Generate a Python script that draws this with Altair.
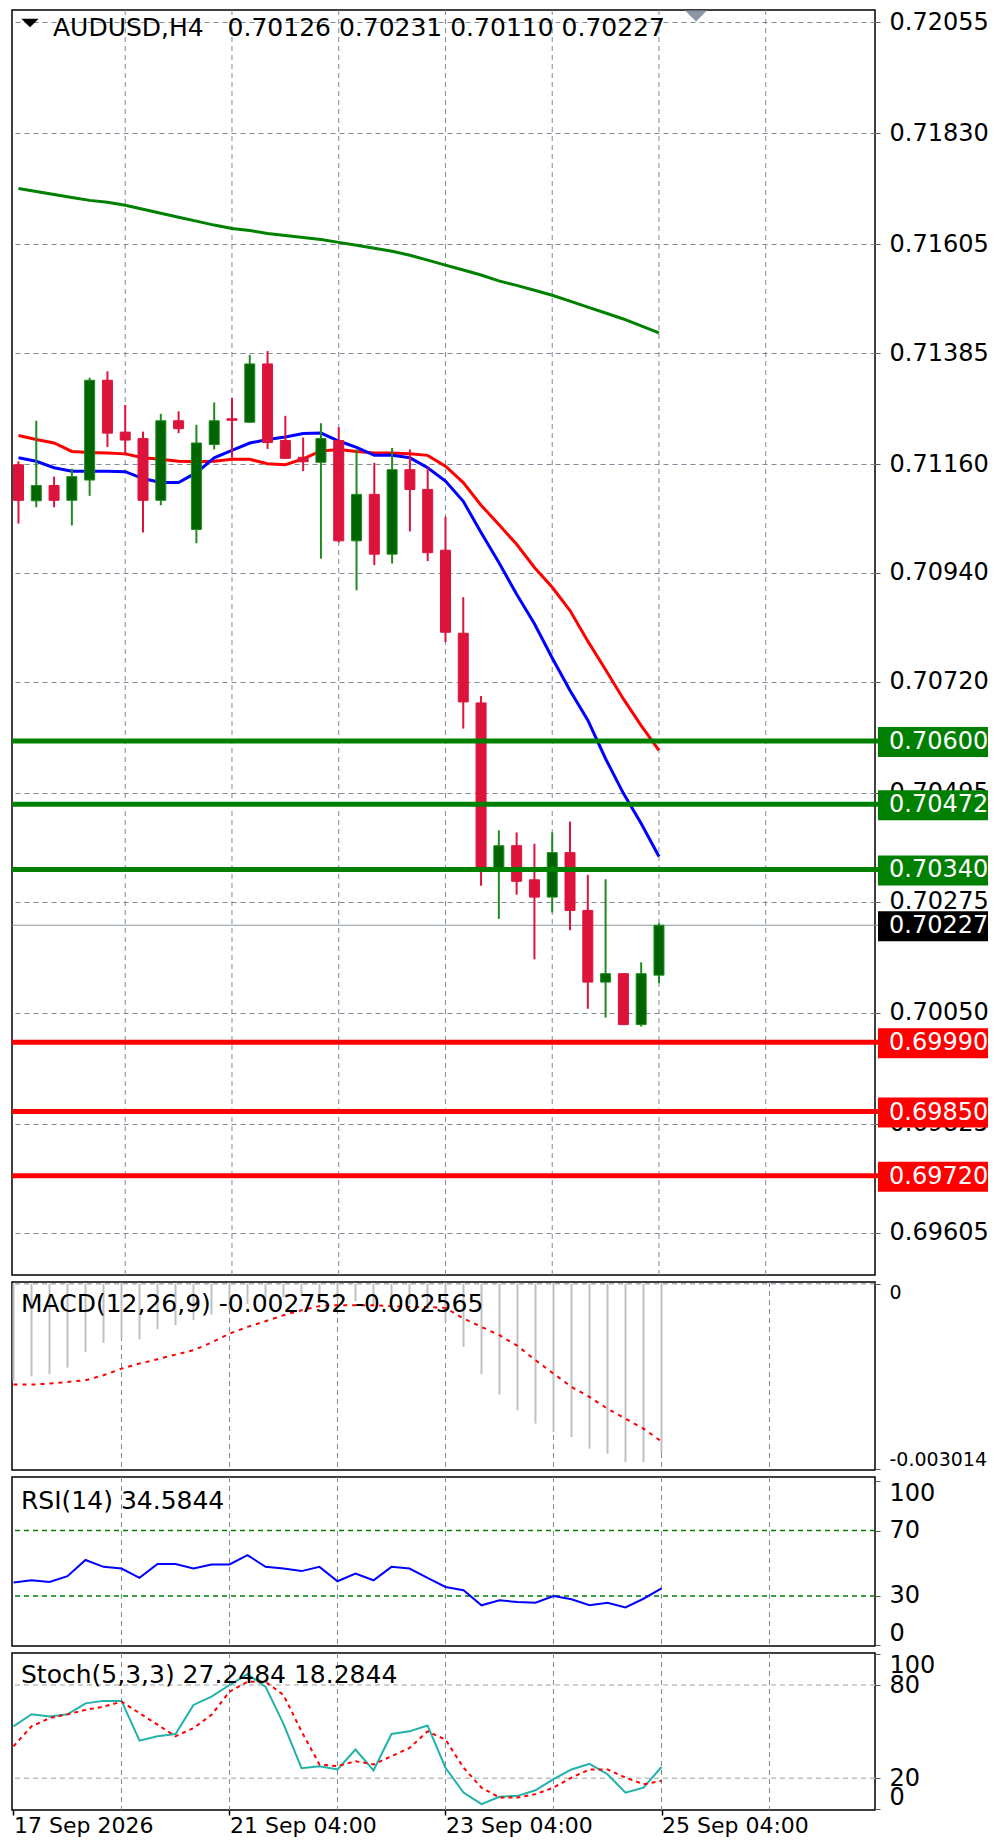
import altair as alt
import pandas as pd

# ---------------- data ----------------
bar_index = list(range(37))
opens = [0.71159, 0.71086, 0.71117, 0.71087, 0.71128, 0.71330, 0.71225, 0.71212, 0.71087, 0.71248,
         0.71028, 0.71200, 0.71252, 0.71245, 0.71363, 0.71208, 0.71174, 0.71164, 0.71208, 0.71005,
         0.71099, 0.70978, 0.71149, 0.71109, 0.70986, 0.70818, 0.70677, 0.70338, 0.70388, 0.70319,
         0.70284, 0.70374, 0.70257, 0.70112, 0.70129, 0.70026, 0.70126]
highs = [0.71166, 0.71248, 0.71135, 0.71151, 0.71335, 0.71348, 0.71280, 0.71226, 0.71262, 0.71267,
         0.71240, 0.71285, 0.71294, 0.71381, 0.71389, 0.71258, 0.71214, 0.71243, 0.71235, 0.71190,
         0.71163, 0.71193, 0.71190, 0.71153, 0.71054, 0.70891, 0.70691, 0.70419, 0.70415, 0.70392,
         0.70415, 0.70437, 0.70329, 0.70320, 0.70129, 0.70152, 0.70231]
lows = [0.71040, 0.71073, 0.71073, 0.71036, 0.71096, 0.71195, 0.71180, 0.71022, 0.71077, 0.71223,
        0.71000, 0.71190, 0.71173, 0.71244, 0.71191, 0.71172, 0.71146, 0.70969, 0.71002, 0.70905,
        0.70956, 0.70959, 0.71024, 0.70964, 0.70800, 0.70625, 0.70307, 0.70240, 0.70289, 0.70158,
        0.70253, 0.70217, 0.70058, 0.70040, 0.70026, 0.70022, 0.70110]
closes = [0.71087, 0.71117, 0.71087, 0.71135, 0.71330, 0.71223, 0.71209, 0.71087, 0.71248, 0.71232,
          0.71203, 0.71248, 0.71249, 0.71363, 0.71204, 0.71172, 0.71165, 0.71212, 0.71005, 0.71099,
          0.70978, 0.71149, 0.71109, 0.70981, 0.70820, 0.70679, 0.70339, 0.70388, 0.70316, 0.70284,
          0.70374, 0.70257, 0.70112, 0.70129, 0.70026, 0.70129, 0.70227]
ma_fast = [0.71173, 0.71166, 0.71153, 0.71146, 0.71146, 0.71146, 0.71145, 0.71131, 0.71123, 0.71123,
           0.71143, 0.71173, 0.71188, 0.71203, 0.71210, 0.71215, 0.71222, 0.71223, 0.71207, 0.71194,
           0.71178, 0.71178, 0.71173, 0.71153, 0.71126, 0.71085, 0.71022, 0.70961, 0.70897, 0.70837,
           0.70768, 0.70702, 0.70642, 0.70564, 0.70494, 0.70433, 0.70366]
ma_mid = [0.71218, 0.71210, 0.71203, 0.71186, 0.71184, 0.71183, 0.71181, 0.71173, 0.71170, 0.71166,
          0.71165, 0.71166, 0.71170, 0.71170, 0.71161, 0.71159, 0.71171, 0.71187, 0.71190, 0.71186,
          0.71183, 0.71183, 0.71181, 0.71178, 0.71156, 0.71123, 0.71077, 0.71038, 0.70998, 0.70951,
          0.70911, 0.70864, 0.70802, 0.70744, 0.70685, 0.70631, 0.70581]
ma_slow = [0.71718, 0.71712, 0.71706, 0.71700, 0.71694, 0.71690, 0.71684, 0.71676, 0.71668, 0.71660,
           0.71652, 0.71644, 0.71637, 0.71633, 0.71627, 0.71623, 0.71619, 0.71615, 0.71609, 0.71603,
           0.71597, 0.71591, 0.71583, 0.71573, 0.71563, 0.71553, 0.71543, 0.71531, 0.71522, 0.71512,
           0.71502, 0.71490, 0.71478, 0.71466, 0.71454, 0.71440, 0.71426]
macd_hist = [-0.001580, -0.001504, -0.001471, -0.001364, -0.001108, -0.000961, -0.000880, -0.000900,
             -0.000738, -0.000673, -0.000590, -0.000500, -0.000420, -0.000330, -0.000280, -0.000220,
             -0.000200, -0.000170, -0.000260, -0.000280, -0.000330, -0.000290, -0.000330, -0.000430,
             -0.000620, -0.001026, -0.001472, -0.001803, -0.002058, -0.002275, -0.002411, -0.002493,
             -0.002683, -0.002765, -0.002900, -0.002900, -0.002752]
macd_signal = [-0.001640, -0.001640, -0.001624, -0.001597, -0.001569, -0.001488, -0.001380, -0.001298,
               -0.001227, -0.001152, -0.001080, -0.000956, -0.000810, -0.000701, -0.000608, -0.000510,
               -0.000429, -0.000363, -0.000347, -0.000347, -0.000347, -0.000363, -0.000375, -0.000375,
               -0.000391, -0.000565, -0.000701, -0.000836, -0.001010, -0.001243, -0.001461, -0.001678,
               -0.001841, -0.002032, -0.002195, -0.002357, -0.002565]
rsi = [38.2, 39.6, 38.6, 42.1, 52.0, 47.8, 46.8, 41.1, 49.5, 49.5, 46.8, 49.3, 49.3, 55.0, 47.8, 46.8,
       45.2, 47.8, 39.0, 43.7, 39.6, 47.8, 46.8, 41.1, 35.5, 33.5, 24.3, 27.3, 26.3, 25.9, 30.0, 28.0,
       24.3, 25.9, 23.0, 28.3, 34.58]
stoch_main = [53.4, 61.2, 59.8, 61.2, 68.2, 69.8, 69.8, 44.2, 47.0, 48.5, 67.2, 72.5, 80.0, 87.0, 79.0,
              55.0, 26.5, 27.8, 25.7, 38.5, 25.1, 48.5, 50.2, 54.0, 26.8, 10.8, 3.4, 8.1, 8.7, 12.3,
              19.4, 25.7, 29.3, 22.6, 10.8, 14.0, 27.25]
stoch_signal = [40.6, 53.4, 58.7, 61.2, 64.0, 66.1, 69.3, 61.9, 54.5, 47.0, 52.3, 60.8, 75.7, 82.1, 82.1,
                73.6, 50.2, 28.9, 27.8, 31.0, 28.9, 34.2, 39.5, 50.2, 44.9, 26.8, 14.0, 7.6, 7.6, 9.8,
                14.0, 20.4, 25.7, 25.7, 20.4, 16.2, 18.28]

price_ticks = [0.72055, 0.71830, 0.71605, 0.71385, 0.71160, 0.70940, 0.70720, 0.70495,
               0.70275, 0.70050, 0.69825, 0.69605]
resistance_levels = [0.70600, 0.70472, 0.70340]
support_levels = [0.69990, 0.69850, 0.69720]
last_price = [0.70227]
grid_bars = [6, 12, 18, 24, 30, 36, 42]
date_bars = [0, 12, 24, 36]
date_labels = ["17 Sep 2026", "21 Sep 04:00", "23 Sep 04:00", "25 Sep 04:00"]
macd_ticks = [0, -0.003014]
rsi_ticks = [0, 30, 70, 100]
rsi_levels = [30, 70]
stoch_ticks = [0, 20, 80, 100]
stoch_levels = [20, 80]

main_title = "AUDUSD,H4\u00a0\u00a0 0.70126 0.70231 0.70110 0.70227"
macd_title = "MACD(12,26,9) -0.002752 -0.002565"
rsi_title = "RSI(14) 34.5844"
stoch_title = "Stoch(5,3,3) 27.2484 18.2844"

# ---------------- styling ----------------
FONT = "DejaVu Sans"
FS = 24
GRID = "#7f8b98"
BULL_BODY = "#006400"
BULL_EDGE = "#1f8a1f"
BEAR = "#dc143c"
W = 863
H_MAIN, H_MACD, H_RSI, H_STOCH = 1265, 188, 169, 157
TRI = "M-1,-0.5L1,-0.5L0,0.5Z"

xs = alt.Scale(domain=[-0.0833, 47.8611], nice=False, zero=False)

candles = pd.DataFrame({"bar": bar_index, "open": opens, "high": highs, "low": lows,
                        "close": closes, "ma_fast": ma_fast, "ma_mid": ma_mid, "ma_slow": ma_slow})
grid_df = pd.DataFrame({"bar": grid_bars})
one = pd.DataFrame({"a": [0]})


def right_axis(values, expr, flush=False, size=FS, **kw):
    return alt.Axis(orient="right", values=values, labelExpr=expr, title=None, domain=False,
                    tickSize=5, tickColor="#555555", labelPadding=9, labelFont=FONT,
                    labelFontSize=size, labelColor="black", labelOverlap=False,
                    labelFlush=flush, **kw)


def vgrid(x_axis=None):
    return alt.Chart(grid_df).mark_rule(strokeDash=[5, 4], color=GRID, strokeWidth=1).encode(
        x=alt.X("bar:Q", scale=xs, axis=x_axis))


def label(text, x, y, size=FS):
    return alt.Chart(pd.DataFrame({"t": [text]})).mark_text(
        align="left", baseline="middle", font=FONT, fontSize=size, color="black").encode(
        x=alt.value(x), y=alt.value(y), text="t:N")


# ---------------- main price panel ----------------
main_y = alt.Scale(domain=[0.695192, 0.720793], nice=False, zero=False)
main_axis = right_axis(price_ticks, "format(datum.value, '.5f')", grid=True,
                       gridDash=[5, 4], gridColor=GRID, gridWidth=1)
X = alt.X("bar:Q", scale=xs, axis=None)
base = alt.Chart(candles)


def py(field):
    return alt.Y(field, scale=main_y, axis=main_axis)


up = "datum.close >= datum.open"
last_rule = alt.Chart(pd.DataFrame({"price": last_price})).mark_rule(
    color="#8c96a0", strokeWidth=1, clip=False).encode(
    y=py("price:Q"), x=alt.value(0), x2=alt.value(866))
ma_lines = [
    base.mark_line(color=c, strokeWidth=3).encode(x=X, y=py(f + ":Q"))
    for f, c in [("ma_slow", "#008000"), ("ma_mid", "#ff0000"), ("ma_fast", "#0000ff")]
]
wicks = base.mark_rule(strokeWidth=2, clip=True).encode(
    x=X, y=py("low:Q"), y2="high:Q",
    color=alt.condition(up, alt.value(BULL_EDGE), alt.value(BEAR)))
bodies = base.mark_bar(size=10, strokeWidth=1, clip=True).encode(
    x=X, y=py("open:Q"), y2="close:Q",
    fill=alt.condition(up, alt.value(BULL_BODY), alt.value(BEAR)),
    stroke=alt.condition(up, alt.value(BULL_EDGE), alt.value(BEAR)))


def level_layers(levels, color, line=True):
    df = pd.DataFrame({"price": levels})
    out = []
    if line:
        out.append(alt.Chart(df).mark_rule(color=color, strokeWidth=5, clip=False).encode(
            y=py("price:Q"), x=alt.value(0), x2=alt.value(866)))
    out.append(alt.Chart(df).mark_tick(orient="horizontal", thickness=30, size=110, color=color,
                                       opacity=1, clip=False, yOffset=1).encode(
        y=py("price:Q"), x=alt.value(921)))
    out.append(alt.Chart(df).mark_text(align="left", baseline="middle", font=FONT, fontSize=FS,
                                       color="white", clip=False, yOffset=1).encode(
        y=py("price:Q"), x=alt.value(877), text=alt.Text("price:Q", format=".5f")))
    return out


title_tri = alt.Chart(one).mark_point(shape=TRI, filled=True, size=300, strokeWidth=0,
                                      color="black", opacity=1).encode(
    x=alt.value(18), y=alt.value(13))
shift_tri = alt.Chart(one).mark_point(shape=TRI, filled=True, size=480, strokeWidth=0,
                                      color="#8a96a3", opacity=1).encode(
    x=alt.value(684), y=alt.value(6))

main = alt.layer(
    vgrid(), last_rule, *ma_lines, wicks, bodies,
    *level_layers(resistance_levels, "#008000"),
    *level_layers(support_levels, "#ff0000"),
    *level_layers(last_price, "#000000", line=False),
    title_tri, shift_tri, label(main_title, 41, 18, 25),
).properties(width=W, height=H_MAIN)

# ---------------- MACD panel ----------------
macd_df = pd.DataFrame({"bar": bar_index, "hist": macd_hist, "signal": macd_signal})
macd_y = alt.Scale(domain=[-0.00303, 0.00003], nice=False, zero=False)
macd_axis = right_axis(macd_ticks,
                       "datum.value == 0 ? '0' : '-' + format(-datum.value, '.6f')",
                       flush=8, size=19, grid=False)
macd = alt.layer(
    vgrid(),
    alt.Chart(pd.DataFrame({"v": [0.0]})).mark_rule(strokeDash=[5, 4], color=GRID).encode(
        y=alt.Y("v:Q", scale=macd_y, axis=macd_axis)),
    alt.Chart(macd_df).mark_rule(color="#c0c0c0", strokeWidth=2).encode(
        x=X, y=alt.Y("hist:Q", scale=macd_y, axis=macd_axis), y2=alt.datum(0)),
    alt.Chart(macd_df).mark_line(color="#ff0000", strokeWidth=2, strokeDash=[4, 5]).encode(
        x=X, y=alt.Y("signal:Q", scale=macd_y, axis=macd_axis)),
    label(macd_title, 9, 22, 25),
).properties(width=W, height=H_MACD)

# ---------------- RSI panel ----------------
rsi_df = pd.DataFrame({"bar": bar_index, "rsi": rsi})
rsi_y = alt.Scale(domain=[-0.6, 102.75], nice=False, zero=False)
rsi_axis = right_axis(rsi_ticks, "format(datum.value, 'd')", flush=8, grid=False)
rsi_panel = alt.layer(
    vgrid(),
    alt.Chart(pd.DataFrame({"v": rsi_levels})).mark_rule(
        strokeDash=[5, 4], color="#008000", strokeWidth=1.5).encode(
        y=alt.Y("v:Q", scale=rsi_y, axis=rsi_axis)),
    alt.Chart(rsi_df).mark_line(color="#0000ff", strokeWidth=2).encode(
        x=X, y=alt.Y("rsi:Q", scale=rsi_y, axis=rsi_axis)),
    label(rsi_title, 9, 24, 25),
).properties(width=W, height=H_RSI)

# ---------------- Stochastic panel ----------------
expr = "''"
for b, lab in reversed(list(zip(date_bars, date_labels))):
    expr = f"datum.value == {b} ? '{lab}' : ({expr})"
x_axis = alt.Axis(values=date_bars, labelExpr=expr, orient="bottom", grid=False, domain=False,
                  tickSize=5, tickColor="black", tickWidth=1.5, labelAlign="left",
                  labelBaseline="top", labelPadding=0, labelFlush=False,
                  labelOverlap=False, labelFont=FONT, labelFontSize=22, labelColor="black",
                  title=None)
XB = alt.X("bar:Q", scale=xs, axis=x_axis)
st_df = pd.DataFrame({"bar": bar_index, "main": stoch_main, "signal": stoch_signal})
st_y = alt.Scale(domain=[-0.4, 100.6], nice=False, zero=False)
st_axis = right_axis(stoch_ticks, "format(datum.value, 'd')", flush=8, grid=False)
stoch = alt.layer(
    vgrid(x_axis),
    alt.Chart(pd.DataFrame({"v": stoch_levels})).mark_rule(
        strokeDash=[5, 4], color="#c0c0c0", strokeWidth=1.5).encode(
        y=alt.Y("v:Q", scale=st_y, axis=st_axis)),
    alt.Chart(st_df).mark_line(color="#20b2aa", strokeWidth=2).encode(
        x=XB, y=alt.Y("main:Q", scale=st_y, axis=st_axis)),
    alt.Chart(st_df).mark_line(color="#ff0000", strokeWidth=2, strokeDash=[4, 4]).encode(
        x=XB, y=alt.Y("signal:Q", scale=st_y, axis=st_axis)),
    label(stoch_title, 9, 22, 25),
).properties(width=W, height=H_STOCH)

chart = alt.vconcat(main, macd, rsi_panel, stoch, spacing=7, bounds="flush").resolve_scale(
    x="independent", y="independent").resolve_axis(x="independent", y="independent").properties(
    padding=0, background="white").configure_view(stroke="black", strokeWidth=1.5)

chart.save("out.html", embed_options={"renderer": "svg", "actions": False})
